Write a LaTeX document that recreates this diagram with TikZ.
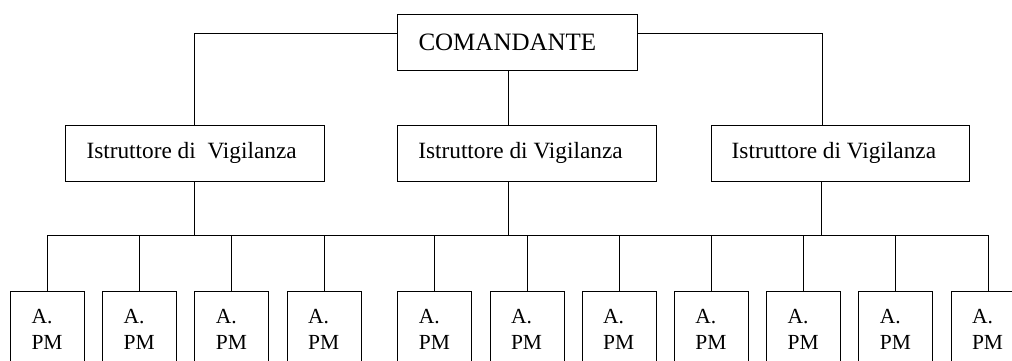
\documentclass[tikz,border=0pt]{standalone}
\usepackage{fontspec}
\setmainfont{Liberation Serif}
\begin{document}
\begin{tikzpicture}[x=1pt,y=-1pt,line width=1pt,
  box/.style={draw,line width=1pt,anchor=north west,inner sep=0pt},
  topbox/.style={box,minimum width=240pt,minimum height=56pt},
  ibox/.style={box,minimum width=258.5pt,minimum height=56pt},
  pmbox/.style={box,minimum width=74pt,minimum height=100pt},
  lbl/.style={anchor=west,inner sep=0pt,font=\fontsize{23.3}{26}\selectfont},
  toplbl/.style={lbl,font=\fontsize{25}{28}\selectfont},
  pmlbl/.style={anchor=north west,inner sep=0pt,align=left,font=\fontsize{21.5}{26.6}\selectfont},
  conn/.style={draw,line width=1pt}]
\useasboundingbox (0,0) rectangle (1012,360);
% commander
\node[topbox] (com) at (397,14) {};
\node[toplbl] (comt) at ([xshift=21pt]com.west) {COMANDANTE};
% istruttori
\node[ibox] (i1) at (65,124.5) {};
\node[ibox] (i2) at (397.3,124.5) {};
\node[ibox] (i3) at (710.7,124.5) {};
\node[lbl] (i1t) at ([xshift=21pt]i1.west) {Istruttore di\ \ Vigilanza};
\node[lbl] (i2t) at ([xshift=20.5pt]i2.west) {Istruttore di Vigilanza};
\node[lbl] (i3t) at ([xshift=20.5pt]i3.west) {Istruttore di Vigilanza};
% bus coordinates
\coordinate (top) at (0,33);
\coordinate (bus) at (0,235);
% agents
\foreach \k/\x in {1/10,2/102.2,3/194.4,4/286.6,5/397.3,6/489.5,7/581.7,8/673.9,9/766.1,10/858.3,11/950.5}{
  \node[pmbox] (p\k) at (\x,291) {};
  \node[pmlbl] (p\k t) at ([xshift=21pt,yshift=-17.5pt]p\k.north west) {A.\\PM};
  \draw[conn] (p\k.north |- bus) -- (p\k.north);
}
% top connectors
\draw[conn] (com.west |- top) -| (i1.north);
\draw[conn] ([xshift=-18pt]i3.north |- top) -- (com.east |- top);
\draw[conn] ([xshift=-18pt]i3.north |- top) -- ([xshift=-18pt]i3.north);
\draw[conn] ([xshift=-9pt]com.south) -- ([xshift=-9pt]com.south |- i2.north);
% lower connectors
\draw[conn] (i1.south) -- (i1.south |- bus);
\draw[conn] ([xshift=-18.5pt]i2.south) -- ([xshift=-18.5pt]i2.south |- bus);
\draw[conn] ([xshift=-18.5pt]i3.south) -- ([xshift=-18.5pt]i3.south |- bus);
\draw[conn] (p1.north |- bus) -- (p11.north |- bus);
\end{tikzpicture}
\end{document}
